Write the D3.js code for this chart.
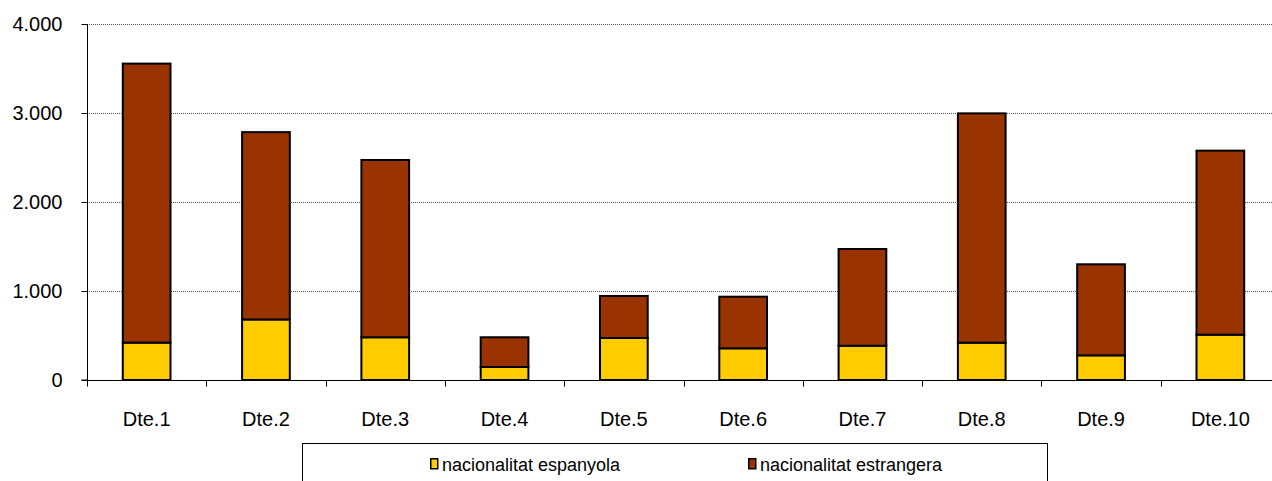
<!DOCTYPE html>
<html>
<head>
<meta charset="utf-8">
<script src="https://cdn.jsdelivr.net/npm/d3@7"></script>
<style>
  body { margin: 0; background: #fff; }
  svg { display: block; font-family: "Liberation Sans", Arial, sans-serif; }
</style>
</head>
<body>
<svg id="chart" width="1272" height="481"></svg>
<script>
const districts = ["Dte.1", "Dte.2", "Dte.3", "Dte.4", "Dte.5", "Dte.6", "Dte.7", "Dte.8", "Dte.9", "Dte.10"];
const espanyola = [420, 680, 480, 146, 472, 356, 385, 419, 277, 509];
const estrangera = [3135, 2105, 1992, 334, 472, 580, 1087, 2577, 1023, 2068];
const seriesNames = ["nacionalitat espanyola", "nacionalitat estrangera"];
const seriesColors = ["#FFCC00", "#993300"];
const yTicks = [0, 1000, 2000, 3000, 4000];

const svg = d3.select("#chart");
const margin = { top: 24, left: 87, bottom: 101, right: -8 };
const width = 1272 - margin.left - margin.right;
const height = 481 - margin.top - margin.bottom;

const rows = districts.map((d, i) => ({ district: d, esp: espanyola[i], est: estrangera[i] }));
const stack = d3.stack().keys(["esp", "est"]);
const layers = stack(rows);

const x = d3.scaleBand().domain(districts).range([0, width]).paddingInner(0.6).paddingOuter(0.3);
const xTickScale = d3.scaleLinear().domain([0, districts.length]).range([0, width]);
const y = d3.scaleLinear().domain([0, 4000]).range([height, 0]);
const fmt = (v) => d3.format(",")(v).replace(/,/g, ".");

const g = svg.append("g").attr("transform", `translate(${margin.left},${margin.top})`);

// gridlines
g.append("g")
  .selectAll("line")
  .data(yTicks.filter((t) => t > 0))
  .join("line")
  .attr("x1", 0)
  .attr("x2", width)
  .attr("y1", (d) => y(d) + 0.5)
  .attr("y2", (d) => y(d) + 0.5)
  .attr("stroke", "#555")
  .attr("stroke-width", 1)
  .attr("stroke-dasharray", "1,1");

// bars
g.append("g")
  .selectAll("g")
  .data(layers)
  .join("g")
  .attr("fill", (d, i) => seriesColors[i])
  .selectAll("rect")
  .data((d) => d)
  .join("rect")
  .attr("x", (d) => x(d.data.district))
  .attr("width", x.bandwidth())
  .attr("y", (d) => y(d[1]))
  .attr("height", (d) => y(d[0]) - y(d[1]))
  .attr("stroke", "#000")
  .attr("stroke-width", 2);

// y axis
const yAxis = g.append("g")
  .attr("transform", "translate(0.5,0)")
  .call(d3.axisLeft(y).tickValues(yTicks).tickFormat(fmt).tickSize(6).tickPadding(19));
yAxis.select(".domain").attr("stroke", "#000").attr("d", `M-6,${height}H0V0`);
yAxis.selectAll(".tick line").attr("stroke", "#000");
yAxis.selectAll("text").attr("font-size", 20).attr("fill", "#000").attr("font-family", "Liberation Sans, Arial, sans-serif");

// x axis
const xAxis = g.append("g").attr("transform", `translate(0,${height + 0.5})`);
xAxis.append("line").attr("x1", 0).attr("x2", width).attr("stroke", "#000");
xAxis.selectAll(".xtick")
  .data(d3.range(districts.length + 1))
  .join("line")
  .attr("class", "xtick")
  .attr("x1", (d) => Math.round(xTickScale(d)) + 0.5)
  .attr("x2", (d) => Math.round(xTickScale(d)) + 0.5)
  .attr("y1", 0)
  .attr("y2", 6)
  .attr("stroke", "#000");
xAxis.selectAll(".xlabel")
  .data(districts)
  .join("text")
  .attr("class", "xlabel")
  .attr("x", (d) => x(d) + x.bandwidth() / 2)
  .attr("y", 45)
  .attr("text-anchor", "middle")
  .attr("font-size", 20)
  .text((d) => d);

// legend
const legend = svg.append("g");
legend.append("rect")
  .attr("x", 302.5)
  .attr("y", 443.5)
  .attr("width", 745)
  .attr("height", 45)
  .attr("fill", "#fff")
  .attr("stroke", "#000")
  .attr("stroke-width", 1);
const legendX = [430, 748];
const item = legend.selectAll(".item")
  .data(seriesNames)
  .join("g")
  .attr("class", "item")
  .attr("transform", (d, i) => `translate(${legendX[i]},458)`);
item.append("rect")
  .attr("x", 0.75)
  .attr("y", 0.75)
  .attr("width", 7)
  .attr("height", 10)
  .attr("fill", (d, i) => seriesColors[i])
  .attr("stroke", "#000")
  .attr("stroke-width", 1.5);
item.append("text")
  .attr("x", 12)
  .attr("y", 13)
  .attr("font-size", 18)
  .text((d) => d);
</script>
</body>
</html>
